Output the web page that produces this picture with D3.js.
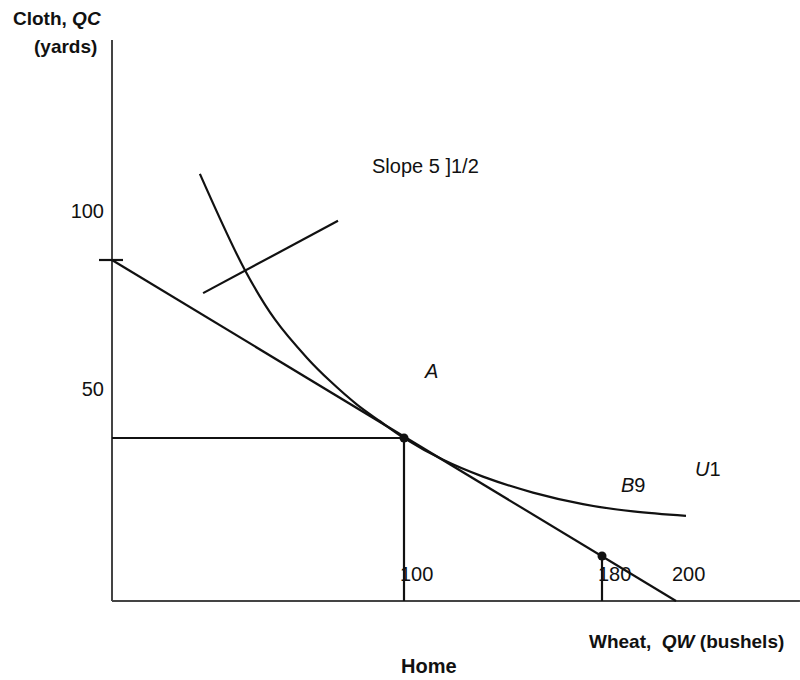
<!DOCTYPE html>
<html>
<head>
<meta charset="utf-8">
<script src="https://cdn.jsdelivr.net/npm/d3@7"></script>
<style>
  html, body { margin: 0; padding: 0; background: #fff; }
  svg { display: block; font-family: "Liberation Sans", Arial, sans-serif; }
</style>
</head>
<body>
<svg id="chart" width="800" height="680"></svg>
<script>
// ---- data (wheat QW, cloth QC) ----
const xTicks = [100, 180, 200];
const yTicks = [50, 100];
const budgetLine = [[0, 100], [200, 0]];          // slope -1/2
const pointA = [100, 50];
const pointB = [180, 10];
const indiffWheat = [30.1, 45.5, 55.8, 66.8, 74.7, 83.9, 91.8, 100, 115.8, 131.9, 152.1, 172.3, 188.4, 202.7];
const indiffCloth = [124.2, 97.2, 83.3, 72.5, 66.0, 59.4, 54.7, 50, 42.6, 36.9, 31.5, 27.6, 25.1, 23.6];
const slopeSegment = [[31.2, 90.7], [77.4, 111.0]];
const axisMax = { wheat: 233.5, cloth: 161.8 };

// ---- scales (schematic, piecewise) ----
const x = d3.scaleLinear().domain([0, 100, 180, 200]).range([112, 404, 602, 676]);
const y = d3.scaleLinear().domain([0, 10, 50, 100]).range([601, 556, 438, 260]);

const svg = d3.select("#chart");
const ink = "#111";
const sw = 2.2;
const line = d3.line().x(d => x(d[0])).y(d => y(d[1]));

// axes
svg.append("line").attr("x1", x(0)).attr("x2", x(0)).attr("y1", y(axisMax.cloth)).attr("y2", y(0))
  .attr("stroke", "#444").attr("stroke-width", 2);
svg.append("line").attr("x1", x(0)).attr("x2", x(axisMax.wheat)).attr("y1", y(0)).attr("y2", y(0))
  .attr("stroke", "#444").attr("stroke-width", 2);

// y tick mark at budget intercept
svg.append("line").attr("x1", x(0) - 13).attr("x2", x(0) + 11).attr("y1", y(100)).attr("y2", y(100))
  .attr("stroke", ink).attr("stroke-width", sw);

// tick labels
svg.selectAll("text.xt").data(xTicks).enter().append("text")
  .attr("class", "xt").attr("x", d => x(d) - 4).attr("y", y(0) - 20)
  .attr("font-size", 20).attr("fill", ink).text(d => d);
svg.selectAll("text.yt").data(yTicks).enter().append("text")
  .attr("class", "yt").attr("x", 104).attr("y", d => y(d) - 42)
  .attr("text-anchor", "end").attr("font-size", 20).attr("fill", ink).text(d => d);

// guide lines from A and B'
svg.append("path").attr("d", line([[0, pointA[1]], pointA])).attr("stroke", ink).attr("stroke-width", sw).attr("fill", "none");
svg.append("path").attr("d", line([pointA, [pointA[0], 0]])).attr("stroke", ink).attr("stroke-width", sw).attr("fill", "none");
svg.append("path").attr("d", line([pointB, [pointB[0], 0]])).attr("stroke", ink).attr("stroke-width", sw).attr("fill", "none");

// budget line
svg.append("path").attr("d", line(budgetLine)).attr("stroke", ink).attr("stroke-width", sw).attr("fill", "none");

// indifference curve
const curvePts = indiffWheat.map((w, i) => [w, indiffCloth[i]]);
svg.append("path").attr("d", d3.line().x(d => x(d[0])).y(d => y(d[1])).curve(d3.curveCatmullRom.alpha(0.5))(curvePts))
  .attr("stroke", ink).attr("stroke-width", sw).attr("fill", "none");

// short slope segment
svg.append("path").attr("d", line(slopeSegment)).attr("stroke", ink).attr("stroke-width", sw).attr("fill", "none");

// points
svg.selectAll("circle.pt").data([pointA, pointB]).enter().append("circle")
  .attr("class", "pt").attr("cx", d => x(d[0])).attr("cy", d => y(d[1])).attr("r", 4.5).attr("fill", ink);

// annotations
svg.append("text").attr("x", 372).attr("y", 173).attr("font-size", 20).attr("fill", ink).text("Slope 5 ]1/2");
svg.append("text").attr("x", x(pointA[0]) + 21).attr("y", y(pointA[1]) - 60)
  .attr("font-size", 20).attr("font-style", "italic").attr("fill", ink).text("A");
const bl = svg.append("text").attr("x", 621).attr("y", 492).attr("font-size", 20).attr("fill", ink);
bl.append("tspan").attr("font-style", "italic").text("B");
bl.append("tspan").text("9");
const ul = svg.append("text").attr("x", 695).attr("y", 476).attr("font-size", 20).attr("fill", ink);
ul.append("tspan").attr("font-style", "italic").text("U");
ul.append("tspan").text("1");

// axis titles
const yt1 = svg.append("text").attr("x", 13).attr("y", 25).attr("font-size", 19).attr("font-weight", "bold").attr("fill", ink);
yt1.append("tspan").text("Cloth, ");
yt1.append("tspan").attr("font-style", "italic").text("QC");
svg.append("text").attr("x", 34).attr("y", 53).attr("font-size", 19).attr("font-weight", "bold").attr("fill", ink).text("(yards)");
const xt = svg.append("text").attr("x", 589).attr("y", 648).attr("font-size", 19).attr("font-weight", "bold").attr("fill", ink);
xt.append("tspan").text("Wheat,\u00a0 ");
xt.append("tspan").attr("font-style", "italic").text("QW");
xt.append("tspan").text(" (bushels)");
svg.append("text").attr("x", 401).attr("y", 673).attr("font-size", 20).attr("font-weight", "bold").attr("fill", ink).text("Home");
</script>
</body>
</html>
